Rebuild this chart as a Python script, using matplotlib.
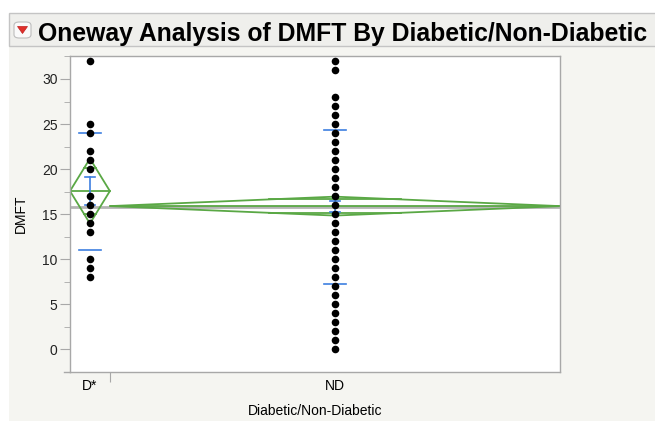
"""
JMP-style oneway analysis: DMFT by Diabetic/Non-Diabetic,
points + means diamonds + std dev lines + mean error bars.
"""
import numpy as np
import matplotlib
matplotlib.use("Agg")
import matplotlib.pyplot as plt
from matplotlib.patches import Rectangle, FancyBboxPatch, Polygon
from matplotlib.lines import Line2D

plt.rcParams["font.family"] = ["Liberation Sans", "DejaVu Sans"]

# --------------------------------------------------------------------------- #
# Data
# --------------------------------------------------------------------------- #
groups = ["D*", "ND"]
group_n = [14, 158]                      # JMP scales group width by n

dmft_d = [32, 25, 24, 22, 21, 20, 17, 16, 15, 14, 13, 10, 9, 8]
dmft_nd = list(range(0, 29)) + [31, 32]

means = [17.57, 15.9]
ci_half = [3.6, 1.05]                    # 95% CI -> diamond half height
sd_hi = [24.0, 24.3]
sd_lo = [11.0, 7.3]
err_hi = [19.1, 16.5]
err_lo = [16.0, 15.2]
grand_mean = 15.85

title = "Oneway Analysis of DMFT By Diabetic/Non-Diabetic"

GREEN = "#5aa845"
BLUE = "#3d7fe0"
BG = "#f5f5f1"

W, H = 655, 421
fig = plt.figure(figsize=(W / 100, H / 100), dpi=100, facecolor=BG)


def px(x0, y0, x1, y1):
    """pixel box (top-left origin) -> figure fraction [l, b, w, h]"""
    return [x0 / W, 1 - y1 / H, (x1 - x0) / W, (y1 - y0) / H]


# outer frame bits: white strip on the left / top, title bar
l, b, w, h = px(0, 0, 9, H)
fig.add_artist(Rectangle((l, b), w, h, transform=fig.transFigure, fc="white", ec="none"))
l, b, w, h = px(0, 0, W, 13)
fig.add_artist(Rectangle((l, b), w, h, transform=fig.transFigure, fc="white", ec="none"))
l, b, w, h = px(9, 13, W + 5, 46)
fig.add_artist(Rectangle((l, b), w, h, transform=fig.transFigure,
                         fc="#efefec", ec="#c4c4c4", lw=1))

# red triangle button
l, b, w, h = px(14, 22, 31, 38)
fig.add_artist(FancyBboxPatch((l, b), w, h, boxstyle="round,pad=0,rounding_size=0.008",
                              transform=fig.transFigure, fc="#fafafa", ec="#bdbdbd", lw=0.8))
tri = np.array([[17.5, 26.5], [27.5, 26.5], [22.5, 33.5]])
fig.add_artist(Polygon(np.c_[tri[:, 0] / W, 1 - tri[:, 1] / H], closed=True,
                       transform=fig.transFigure, fc="#e0302a", ec="#c02020", lw=0.5))

t = fig.text(38 / W, 1 - 41 / H, title, fontsize=15, fontweight="bold",
             color="black", ha="left", va="baseline")
# fit title width to ~613 px
fig.canvas.draw()
tw = t.get_window_extent().width
t.set_fontsize(15 * 613 / tw)

# --------------------------------------------------------------------------- #
# Plot area
# --------------------------------------------------------------------------- #
ax = fig.add_axes(px(70, 56, 560, 372))
ax.set_facecolor("white")

total = sum(group_n)
edges = np.concatenate([[0], np.cumsum(group_n)])
centers = (edges[:-1] + edges[1:]) / 2
ax.set_xlim(0, total)
ax.set_ylim(-2.45, 32.55)

upx = total / 490.0                      # data units per pixel along x

# grand mean line
ax.axhline(grand_mean, color="#b4b4b4", lw=2, zorder=1)

for i, vals in enumerate([dmft_d, dmft_nd]):
    L, R, C = edges[i], edges[i + 1], centers[i]
    m, hh = means[i], ci_half[i]
    diamond = Polygon([[L, m], [C, m + hh], [R, m], [C, m - hh]], closed=True,
                      fill=False, ec=GREEN, lw=1.3, zorder=2)
    ax.add_patch(diamond)
    ax.plot([L, R], [m, m], color=GREEN, lw=1.3, zorder=2)
    # overlap marks
    half_w = (R - L) / 2 * (1 - 1 / np.sqrt(2))
    for s in (1, -1):
        ax.plot([C - half_w, C + half_w], [m + s * hh / np.sqrt(2)] * 2,
                color=GREEN, lw=1.3, zorder=2)

    # std dev lines
    for v in (sd_hi[i], sd_lo[i]):
        ax.plot([C - 11 * upx, C + 11 * upx], [v, v], color=BLUE, lw=1.2, zorder=4)
    # mean error bar
    ax.plot([C, C], [err_lo[i], err_hi[i]], color=BLUE, lw=1.2, zorder=4)
    for v in (err_lo[i], err_hi[i]):
        ax.plot([C - 5 * upx, C + 5 * upx], [v, v], color=BLUE, lw=1.2, zorder=4)

    ax.scatter(np.full(len(vals), C), vals, s=30, color="black", zorder=5, linewidths=0)

# axes styling
for side in ["left", "bottom", "top", "right"]:
    ax.spines[side].set_color("#a8a8a8")
    ax.spines[side].set_linewidth(1)

ax.set_yticks(np.arange(0, 31, 5))
ax.set_yticks(np.arange(-2.5, 32.6, 2.5), minor=True)
ax.tick_params(axis="y", which="major", length=7, color="#a8a8a8", labelsize=10,
               labelcolor="#222222", pad=2)
ax.tick_params(axis="y", which="minor", length=4, color="#a8a8a8")

ax.set_xticks([edges[1]])
ax.set_xticklabels([""])
ax.set_xticks(centers, minor=True)
ax.set_xticklabels(groups, minor=True)
ax.tick_params(axis="x", which="major", length=7, color="#a8a8a8")
ax.tick_params(axis="x", which="minor", length=0, labelsize=10, pad=5)

ax.add_line(Line2D([-0.012, 0], [0, 0], transform=ax.transAxes, color="#a8a8a8",
                   lw=1, clip_on=False))

ax.set_xlabel("Diabetic/Non-Diabetic", fontsize=10, labelpad=8)
ax.set_ylabel("DMFT", fontsize=10, labelpad=10)

fig.savefig("out.png", dpi=100, facecolor=BG)
